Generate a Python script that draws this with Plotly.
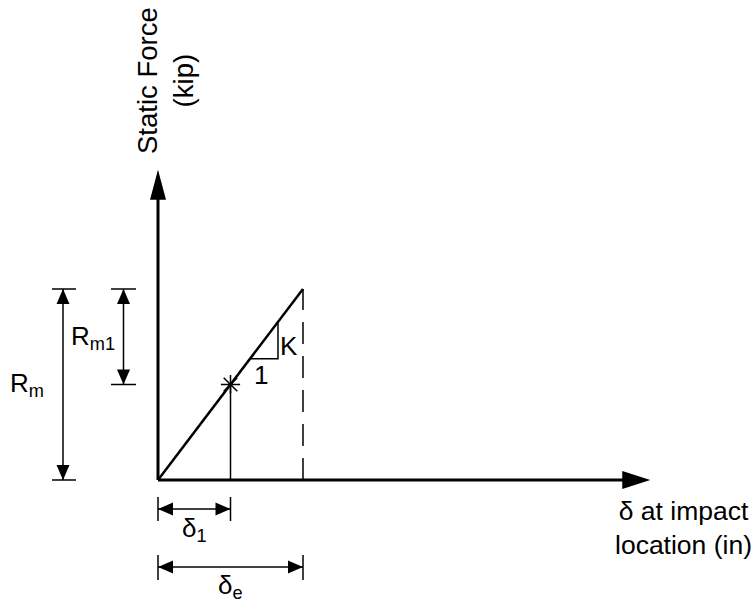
import numpy as np
import plotly.graph_objects as go

# diagram values (sketch units): origin, delta_1, delta_e / 0, F(delta_1), R_m
delta_pts = [0.0, 1.0, 2.0]
force_pts = [0.0, 1.0, 2.0]
axis_tips = [6.79, 3.25]          # x-axis tip (delta), y-axis tip (force)
slope_tri = [1.27, 1.655]         # delta span of the 1:K slope triangle
text_labels = ["R<sub>m</sub>", "R<sub>m1</sub>", "K", "1",
               "δ<sub>1</sub>", "δ<sub>e</sub>"]
x_title = "δ at impact<br>location (in)"
y_title = "Static Force<br>(kip)"

# page geometry: origin pixel and pixels per unit
W, H = 756, 602
OX, OY = 158, 480
SX, SY = 72.5, 95.5


def X(px):
    return (px - OX) / SX


def Y(py):
    return (OY - py) / SY


def head(tip, d, length, width):
    # filled triangle with its tip at `tip`, pointing along pixel direction d
    dx, dy = d
    bx, by = -dx * length, -dy * length
    px, py = -dy * width / 2, dx * width / 2
    xs = [tip[0], tip[0] + (bx + px) / SX, tip[0] + (bx - px) / SX, tip[0]]
    ys = [tip[1], tip[1] + (by + py) / SY, tip[1] + (by - py) / SY, tip[1]]
    return go.Scatter(x=xs, y=ys, mode="lines", fill="toself", fillcolor="black",
                      line=dict(width=0, color="black"), hoverinfo="skip")


def seg(xs, ys, w=1.5, dash=None):
    return go.Scatter(x=xs, y=ys, mode="lines", hoverinfo="skip",
                      line=dict(color="black", width=w, dash=dash))


d0, d1, de = delta_pts
f0, f1, rm = force_pts
traces = []

# axes with arrows
traces.append(seg([d0, axis_tips[0] - 20 / SX], [f0, f0], 3))
traces.append(seg([d0, d0], [f0, axis_tips[1] - 20 / SY], 3))
traces.append(head((axis_tips[0], f0), (1, 0), 28, 18))
traces.append(head((d0, axis_tips[1]), (0, 1), 30, 16))

# load-deflection line
traces.append(seg([d0, de], [f0, rm], 2.5))
traces.append(seg([d1, d1], [f0, f1], 1.5))
traces.append(seg([de, de], [f0, rm], 1.5, "22px,12px"))
traces.append(go.Scatter(x=[d1], y=[f1], mode="markers", hoverinfo="skip",
                         marker=dict(symbol="asterisk-open", size=16, color="black",
                                     line=dict(color="black", width=1.5))))

# slope triangle
a, b = slope_tri
traces.append(seg([a, b, b], [a * rm / de, a * rm / de, b * rm / de], 1.5))

AL, AW = 15, 13
# R_m dimension
xr = X(63)
traces.append(seg([xr, xr], [f0, rm]))
traces.append(seg([X(52), X(76), None, X(52), X(76)], [f0, f0, None, rm, rm]))
traces.append(head((xr, rm), (0, 1), AL, AW))
traces.append(head((xr, f0), (0, -1), AL, AW))

# R_m1 dimension
xr1 = X(123.5)
traces.append(seg([xr1, xr1], [f1, rm]))
traces.append(seg([X(111), X(136), None, X(111), X(136)], [f1, f1, None, rm, rm]))
traces.append(head((xr1, rm), (0, 1), AL, AW))
traces.append(head((xr1, f1), (0, -1), AL, AW))

# delta_1 dimension
yd = Y(509)
traces.append(seg([d0, d1], [yd, yd]))
traces.append(seg([d0, d0, None, d1, d1], [Y(497), Y(521), None, Y(497), Y(521)]))
traces.append(head((d0, yd), (-1, 0), AL, AW))
traces.append(head((d1, yd), (1, 0), AL, AW))

# delta_e dimension
ye = Y(567)
traces.append(seg([d0, de], [ye, ye]))
traces.append(seg([d0, d0, None, de, de], [Y(555), Y(580), None, Y(555), Y(580)]))
traces.append(head((d0, ye), (-1, 0), AL, AW))
traces.append(head((de, ye), (1, 0), AL, AW))

fig = go.Figure(data=traces)

FONT = dict(family="Liberation Sans, Arial, sans-serif", size=26, color="black")
label_xy = [
    (X(27), (f0 + rm) / 2),
    (X(93), Y(337)),
    (X(289), Y(346)),
    (X(261), Y(375)),
    ((d0 + d1) / 2, Y(529)),
    ((d0 + de) / 2, Y(586)),
]
for t, (lx, ly) in zip(text_labels, label_xy):
    fig.add_annotation(x=lx, y=ly, text=t, showarrow=False, font=FONT,
                       xanchor="center", yanchor="middle")
fig.add_annotation(x=X(683), y=Y(528), text=x_title, showarrow=False,
                   font=dict(FONT, size=26.5), align="center")
fig.add_annotation(x=X(165), y=Y(81), text=y_title, showarrow=False,
                   font=dict(FONT, size=27.5), align="center", textangle=-90)

fig.update_layout(
    width=W, height=H, showlegend=False,
    margin=dict(l=0, r=0, t=0, b=0),
    plot_bgcolor="white", paper_bgcolor="white",
    xaxis=dict(range=[X(0), X(W)], visible=False, fixedrange=True),
    yaxis=dict(range=[Y(H), Y(0)], visible=False, fixedrange=True),
)
fig.write_html("out.html", config=dict(displayModeBar=False),
               post_script="document.body.style.margin='0';")
